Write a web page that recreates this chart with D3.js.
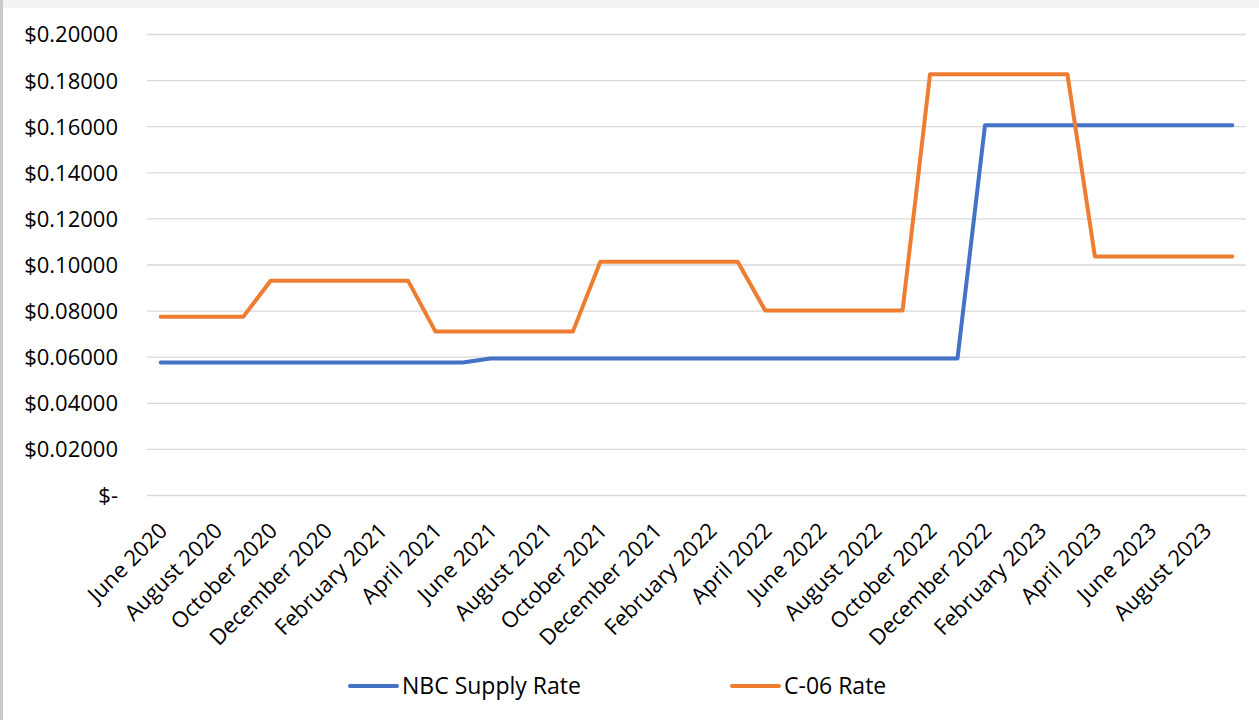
<!DOCTYPE html>
<html>
<head>
<meta charset="utf-8">
<script src="https://cdn.jsdelivr.net/npm/d3@7"></script>
<style>
  body { margin: 0; background: #fff; }
  text { font-family: "Open Sans", sans-serif; fill: #000; }
</style>
</head>
<body>
<div id="chart"></div>
<script>
// Months (one category per month), labels shown every 2nd month
var months = ["June 2020","July 2020","August 2020","September 2020","October 2020","November 2020",
  "December 2020","January 2021","February 2021","March 2021","April 2021","May 2021",
  "June 2021","July 2021","August 2021","September 2021","October 2021","November 2021",
  "December 2021","January 2022","February 2022","March 2022","April 2022","May 2022",
  "June 2022","July 2022","August 2022","September 2022","October 2022","November 2022",
  "December 2022","January 2023","February 2023","March 2023","April 2023","May 2023",
  "June 2023","July 2023","August 2023","September 2023"];

var nbcRate = [0.0577,0.0577,0.0577,0.0577,0.0577,0.0577,
  0.0577,0.0577,0.0577,0.0577,0.0577,0.0577,
  0.0594,0.0594,0.0594,0.0594,0.0594,0.0594,
  0.0594,0.0594,0.0594,0.0594,0.0594,0.0594,
  0.0594,0.0594,0.0594,0.0594,0.0594,0.0594,
  0.1606,0.1606,0.1606,0.1606,0.1606,0.1606,
  0.1606,0.1606,0.1606,0.1606];

var c06Rate = [0.0775,0.0775,0.0775,0.0775,0.0932,0.0932,
  0.0932,0.0932,0.0932,0.0932,0.0711,0.0711,
  0.0711,0.0711,0.0711,0.0711,0.1014,0.1014,
  0.1014,0.1014,0.1014,0.1014,0.0803,0.0803,
  0.0803,0.0803,0.0803,0.0803,0.1828,0.1828,
  0.1828,0.1828,0.1828,0.1828,0.1037,0.1037,
  0.1037,0.1037,0.1037,0.1037];

var yTicks = [0,0.02,0.04,0.06,0.08,0.10,0.12,0.14,0.16,0.18,0.20];
var seriesNames = ["NBC Supply Rate","C-06 Rate"];
var seriesColors = ["#4472C4","#ED7D31"];

// Set dimensions
var W = 1259, H = 720;
var plot = {left: 147, right: 1246, top: 34.5, bottom: 495.5};

var svg = d3.select("#chart").append("svg")
    .attr("width", W)
    .attr("height", H);

// page border like the screenshot
svg.append("rect").attr("width", W).attr("height", H).attr("fill", "#f3f3f3");
svg.append("rect").attr("x", 0).attr("y", 0).attr("width", 3).attr("height", H).attr("fill", "#c9c9c9");
svg.append("rect").attr("x", 3).attr("y", 8).attr("width", W - 3).attr("height", H - 8).attr("fill", "#fff");

var x = d3.scaleBand().domain(months).range([plot.left, plot.right]);
var y = d3.scaleLinear().domain([0, 0.2]).range([plot.bottom, plot.top]);

// gridlines
svg.append("g")
  .selectAll("line")
  .data(yTicks)
  .enter().append("line")
    .attr("x1", plot.left).attr("x2", plot.right)
    .attr("y1", d => y(d)).attr("y2", d => y(d))
    .attr("stroke", "#d9d9d9")
    .attr("stroke-width", 1.3);

// y axis labels
svg.append("g")
  .selectAll("text")
  .data(yTicks)
  .enter().append("text")
    .attr("x", 118)
    .attr("y", d => y(d))
    .attr("dy", "0.36em")
    .attr("text-anchor", "end")
    .style("font-size", "22px")
    .text(d => d === 0 ? "$-" : "$" + d.toFixed(5));

// x axis labels (every other month)
svg.append("g")
  .selectAll("text")
  .data(months.filter((m, i) => i % 2 === 0))
  .enter().append("text")
    .attr("text-anchor", "end")
    .attr("transform", d => "translate(" + (x(d) + x.bandwidth() / 2 + 8) + ",532) rotate(-45)")
    .style("font-size", "22px")
    .text(d => d);

// lines
var line = d3.line()
    .x((d, i) => x(months[i]) + x.bandwidth() / 2)
    .y(d => y(d));

[nbcRate, c06Rate].forEach(function(s, k) {
  svg.append("path")
    .datum(s)
    .attr("fill", "none")
    .attr("stroke", seriesColors[k])
    .attr("stroke-width", 4)
    .attr("stroke-linecap", "round")
    .attr("stroke-linejoin", "round")
    .attr("d", line);
});

// legend
var legendX = [350, 732];
seriesNames.forEach(function(n, k) {
  var g = svg.append("g").attr("transform", "translate(" + legendX[k] + ",686)");
  g.append("line")
    .attr("x1", 0).attr("x2", 47)
    .attr("stroke", seriesColors[k])
    .attr("stroke-width", 4)
    .attr("stroke-linecap", "round");
  g.append("text")
    .attr("x", 52)
    .attr("dy", "0.36em")
    .style("font-size", "23px")
    .text(n);
});
</script>
</body>
</html>
